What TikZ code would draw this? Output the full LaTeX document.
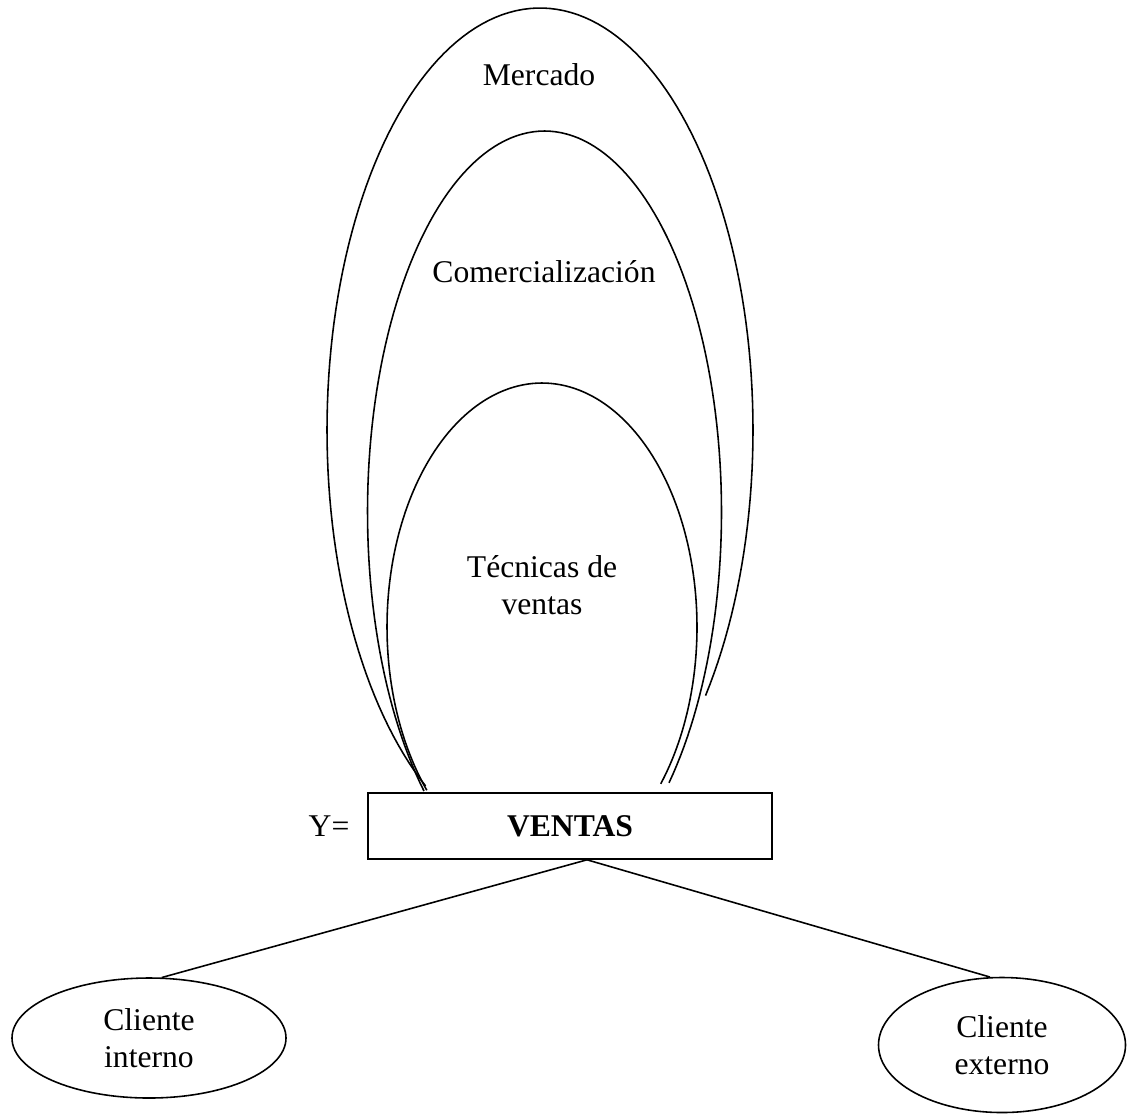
\documentclass[tikz,border=0pt]{standalone}
\usepackage{fontspec}
\setmainfont{Liberation Serif}
\usetikzlibrary{shapes.geometric, positioning, calc}

\begin{document}
\begin{tikzpicture}[
      x=0.2mm, y=-0.2mm,
      line width=0.9pt,
      every node/.style={font=\fontsize{18}{21}\selectfont},
      lbl/.style={anchor=base, inner sep=0pt},
      box/.style={rectangle, draw, minimum width=8.08cm, minimum height=1.32cm},
      client/.style={ellipse, draw, align=center, inner sep=0pt}
    ]
    \useasboundingbox (0,0) rectangle (1129,1115);

    % the three open rings above the box
    \draw plot[domain=122.5:399, samples=150, variable=\t] ({540+213*cos(\t)}, {430+422*sin(\t)});
    \draw plot[domain=132.9:405.3, samples=150, variable=\t] ({544.5+177*cos(\t)}, {512+381*sin(\t)});
    \draw plot[domain=138:400, samples=150, variable=\t] ({542+155*cos(\t)}, {627+244*sin(\t)});

    \node[lbl] (merc) at (539,85) {Mercado};
    \node[lbl] (comer) at (544,282) {Comercialización};
    \node[align=center, inner sep=0pt] (tec) at (542,585) {Técnicas de\\ventas};

    \node[box] (ventas) at (570,826) {\textbf{VENTAS}};
    \node[inner sep=0pt, left=0.34cm of ventas] (yeq) {Y=};

    \node[client, minimum width=5.48cm, minimum height=2.4cm] (ci) at (149,1038) {Cliente\\interno};
    \node[client, minimum width=4.94cm, minimum height=2.7cm] (ce) at (1002,1045) {Cliente\\externo};

    \coordinate (fork) at ($(ventas.south)+(17,0)$);
    \draw (fork) -- (ci.78);
    \draw (fork) -- (ce.100);
  \end{tikzpicture}
\end{document}
